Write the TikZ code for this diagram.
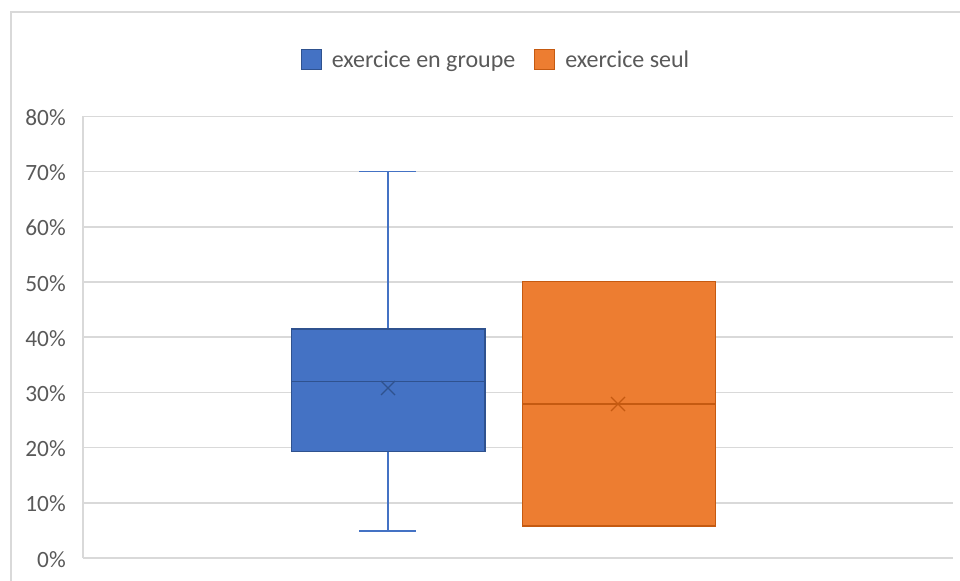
\documentclass[tikz,border=0pt]{standalone}
\usepackage{fontspec}
\setmainfont{Carlito}
\definecolor{gridc}{HTML}{D9D9D9}
\definecolor{txt}{HTML}{595959}
\definecolor{bfill}{HTML}{4472C4}
\definecolor{bline}{HTML}{2F528F}
\definecolor{ofill}{HTML}{ED7D31}
\definecolor{oline}{HTML}{C55A11}
\begin{document}
\begin{tikzpicture}[x=0.75pt,y=-0.75pt,
  gridline/.style={draw=gridc,line width=1.1pt},
  lab/.style={text=txt,font=\fontsize{17.5}{20}\selectfont,inner sep=0pt,anchor=base east},
  legtext/.style={text=txt,font=\fontsize{18}{21}\selectfont,inner sep=0pt,anchor=base west},
  legsq/.style={minimum size=15pt,inner sep=0pt,line width=0.6pt},
  bstroke/.style={draw=bline,line width=0.9pt},
  whisk/.style={draw=bfill,line width=1.2pt},
  ostroke/.style={draw=oline,line width=0.9pt}]
\useasboundingbox (0,0) rectangle (960,581);
% chart frame
\draw[gridline] (11,581) -- (11,12) -- (960,12);
% gridlines and axis labels
\foreach \v in {0,...,8}{
  \pgfmathsetmacro{\yy}{558-\v*55.2}
  \draw[gridline] (83,\yy) -- (953,\yy);
  \node[lab] (l\v) at (66,\yy+9) {\ifnum\v=0 0\else\v0\fi\%};
}
\draw[gridline] (83,116.4) -- (83,558);
% blue box plot
\coordinate (bt) at (388,171.7);
\coordinate (bb) at (388,530.7);
\draw[whisk] (388,329) -- (bt);
\draw[whisk] (359,171.7) -- (416,171.7);
\draw[whisk] (388,451.7) -- (bb);
\draw[whisk] (359,530.7) -- (416,530.7);
\draw[bstroke,fill=bfill] (291.7,329) rectangle (485,451.7);
\draw[bstroke] (291.7,381.7) -- (485,381.7);
\draw[bstroke] (381,381) -- (395,395) (381,395) -- (395,381);
% orange box plot
\draw[ostroke,fill=ofill] (522.7,281.7) rectangle (715.7,526);
\draw[ostroke] (522.7,404) -- (715.7,404);
\draw[ostroke] (611,397) -- (625,411) (611,411) -- (625,397);
% legend
\node[legsq,fill=bfill,draw=bline] (lg1) at (311.2,59) {};
\node[legtext] (lt1) at (331.5,67.5) {exercice en groupe};
\node[legsq,fill=ofill,draw=oline] (lg2) at (544.5,59) {};
\node[legtext] (lt2) at (565,67.5) {exercice seul};
\end{tikzpicture}
\end{document}
